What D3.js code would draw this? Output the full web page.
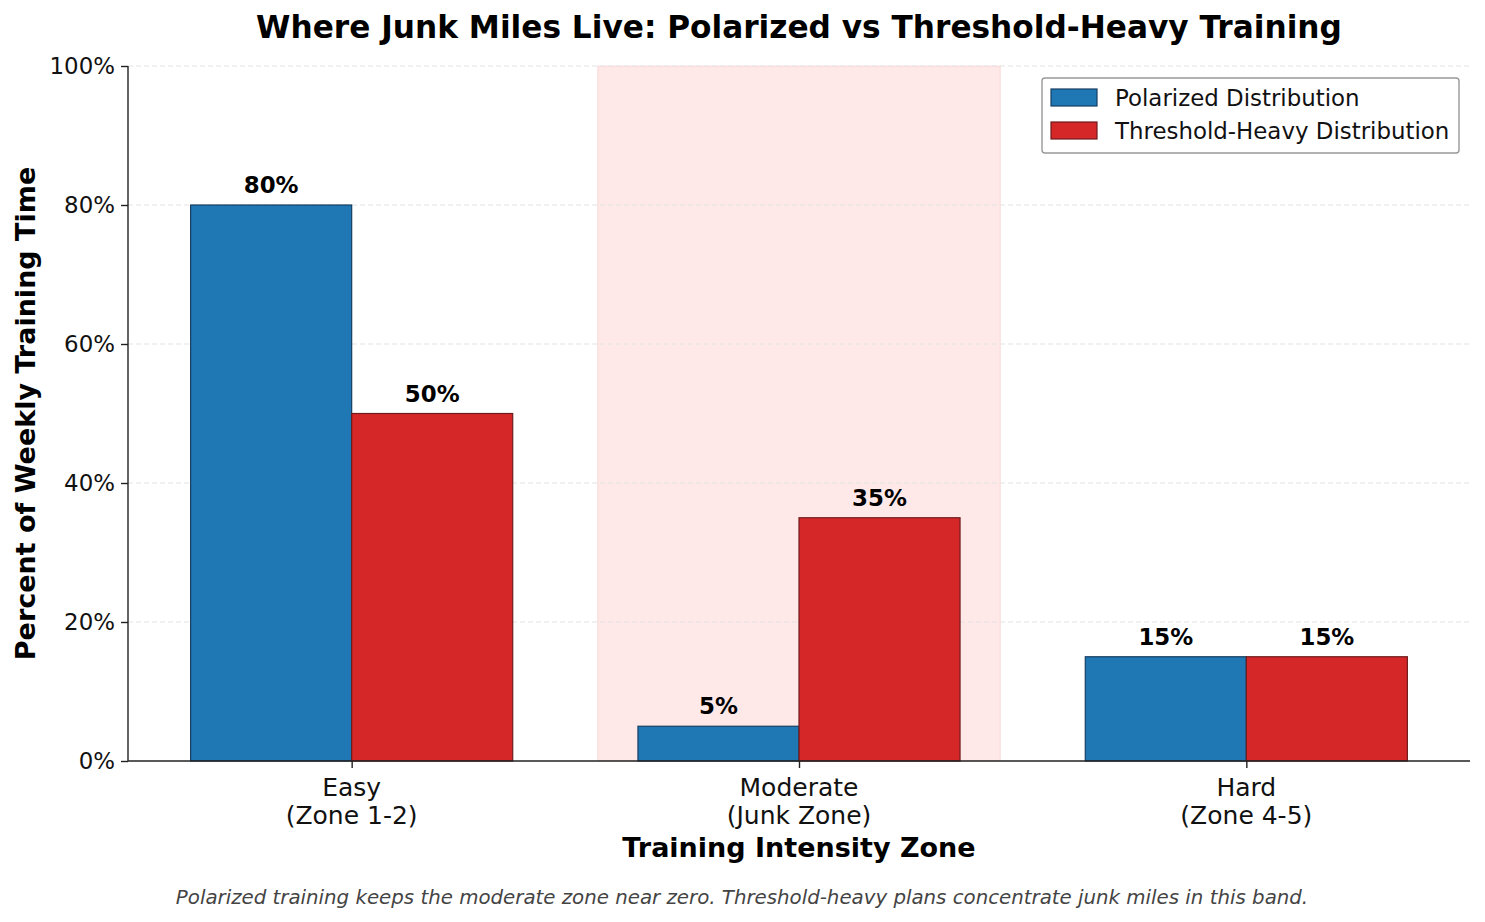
<!DOCTYPE html>
<html>
<head>
<meta charset="utf-8">
<script src="https://cdn.jsdelivr.net/npm/d3@7"></script>
<style>
  body { margin: 0; background: #fff; }
  text { font-family: "DejaVu Sans", sans-serif; }
</style>
</head>
<body>
<div id="chart"></div>
<script>
// chart data
const zones = ["Easy\n(Zone 1-2)", "Moderate\n(Junk Zone)", "Hard\n(Zone 4-5)"];
const polarized = [80, 5, 15];
const thresholdHeavy = [50, 35, 15];
const seriesNames = ["Polarized Distribution", "Threshold-Heavy Distribution"];
const yTicks = [0, 20, 40, 60, 80, 100];
const junkZoneIndex = 1;

function chart() {
  var w = 1485;
  var h = 922;
  var left = 128, right = 1470, top = 66, bottom = 761;

  var colors = ["#1f77b4", "#d62728"];
  var edges = ["#163f62", "#6e1c1d"];

  var svg = d3
    .select("#chart")
    .append("svg")
    .attr("width", w)
    .attr("height", h);

  // scales
  var x = d3.scaleLinear().domain([-0.5, 2.5]).range([left, right]);
  var y = d3.scaleLinear().domain([0, 100]).range([bottom, top]);
  var barW = 0.36;

  // junk zone shading
  svg
    .append("rect")
    .attr("x", x(junkZoneIndex - 0.45))
    .attr("y", y(100))
    .attr("width", x(junkZoneIndex + 0.45) - x(junkZoneIndex - 0.45))
    .attr("height", y(0) - y(100))
    .attr("fill", "rgba(255,0,0,0.09)")
    .attr("stroke", "rgba(214,39,40,0.12)");

  // grid lines
  svg
    .append("g")
    .selectAll("line")
    .data(yTicks.slice(1))
    .enter()
    .append("line")
    .attr("x1", left)
    .attr("x2", right)
    .attr("y1", (d) => y(d))
    .attr("y2", (d) => y(d))
    .attr("stroke", "#e3e3e3")
    .attr("stroke-dasharray", "5,3")
    .attr("stroke-width", 1);

  // bars
  var series = [polarized, thresholdHeavy];
  series.forEach(function (vals, s) {
    var offset = s === 0 ? -barW : 0;
    var g = svg.append("g");
    g.selectAll("rect")
      .data(vals)
      .enter()
      .append("rect")
      .attr("x", (d, i) => x(i + offset))
      .attr("y", (d) => y(d))
      .attr("width", (d, i) => x(i + offset + barW) - x(i + offset))
      .attr("height", (d) => y(0) - y(d))
      .attr("fill", colors[s])
      .attr("stroke", edges[s])
      .attr("stroke-width", 1.2);

    // value labels
    g.selectAll("text")
      .data(vals)
      .enter()
      .append("text")
      .attr("x", (d, i) => x(i + offset + barW / 2))
      .attr("y", (d) => y(d) - 12)
      .attr("text-anchor", "middle")
      .attr("font-size", 22.9)
      .attr("font-weight", "bold")
      .text((d) => d + "%");
  });

  // y axis
  var yAxis = svg
    .append("g")
    .attr("transform", "translate(" + left + ",0)")
    .call(
      d3.axisLeft(y)
        .tickValues(yTicks)
        .tickFormat((d) => d + "%")
        .tickSize(7)
        .tickPadding(6)
    );
  yAxis.select(".domain").attr("stroke", "#222").attr("stroke-width", 1.4).attr("d", "M0," + top + "V" + bottom);
  yAxis.selectAll(".tick line").attr("stroke", "#222").attr("stroke-width", 1.4);
  yAxis.selectAll(".tick text").attr("font-size", 22.9).attr("fill", "#111").attr("font-family", "DejaVu Sans");

  // x axis
  var xAxis = svg
    .append("g")
    .attr("transform", "translate(0," + bottom + ")")
    .call(d3.axisBottom(x).tickValues([0, 1, 2]).tickFormat("").tickSize(7));
  xAxis.select(".domain").attr("stroke", "#222").attr("stroke-width", 1.4).attr("d", "M" + left + ",0H" + right);
  xAxis.selectAll(".tick line").attr("stroke", "#222").attr("stroke-width", 1.4);

  // x tick labels (two lines)
  zones.forEach(function (z, i) {
    var t = svg
      .append("text")
      .attr("x", x(i))
      .attr("y", 796)
      .attr("text-anchor", "middle")
      .attr("font-size", 25)
      .attr("fill", "#111");
    z.split("\n").forEach(function (line, k) {
      t.append("tspan").attr("x", x(i)).attr("dy", k === 0 ? 0 : 27.5).text(line);
    });
  });

  // axis titles
  svg
    .append("text")
    .attr("x", (left + right) / 2)
    .attr("y", 857)
    .attr("text-anchor", "middle")
    .attr("font-size", 27)
    .attr("font-weight", "bold")
    .text("Training Intensity Zone");

  svg
    .append("text")
    .attr("transform", "translate(35," + (top + bottom) / 2 + ") rotate(-90)")
    .attr("text-anchor", "middle")
    .attr("font-size", 27)
    .attr("font-weight", "bold")
    .text("Percent of Weekly Training Time");

  // title
  svg
    .append("text")
    .attr("x", 799)
    .attr("y", 38)
    .attr("text-anchor", "middle")
    .attr("font-size", 31.2)
    .attr("font-weight", "bold")
    .text("Where Junk Miles Live: Polarized vs Threshold-Heavy Training");

  // caption
  svg
    .append("text")
    .attr("x", 742)
    .attr("y", 904)
    .attr("text-anchor", "middle")
    .attr("font-size", 19.8)
    .attr("font-style", "italic")
    .attr("fill", "#444")
    .text("Polarized training keeps the moderate zone near zero. Threshold-heavy plans concentrate junk miles in this band.");

  // legend
  var lg = svg.append("g").attr("transform", "translate(1042,78)");
  lg.append("rect")
    .attr("width", 417)
    .attr("height", 75)
    .attr("rx", 3)
    .attr("fill", "rgba(255,255,255,0.85)")
    .attr("stroke", "#999")
    .attr("stroke-width", 1.4);
  seriesNames.forEach(function (name, i) {
    lg.append("rect")
      .attr("x", 9)
      .attr("y", 11 + i * 33)
      .attr("width", 46)
      .attr("height", 17)
      .attr("fill", colors[i])
      .attr("stroke", edges[i])
      .attr("stroke-width", 1.2);
    lg.append("text")
      .attr("x", 73)
      .attr("y", 28 + i * 33)
      .attr("font-size", 22.9)
      .attr("fill", "#111")
      .text(name);
  });
}

chart();
</script>
</body>
</html>
